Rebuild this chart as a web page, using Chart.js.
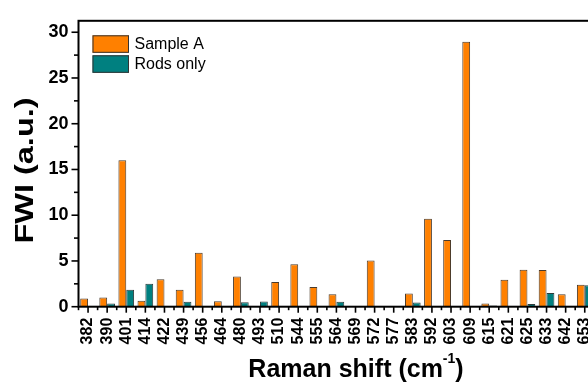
<!DOCTYPE html>
<html>
<head>
<meta charset="utf-8">
<script src="https://cdn.jsdelivr.net/npm/chart.js@4"></script>
<style>
  html, body { margin: 0; padding: 0; background: #fff; overflow: hidden; }
  #wrap { width: 600px; height: 389px; }
</style>
</head>
<body>
<div id="wrap"><canvas id="fwi_chart"></canvas></div>
<script>
// Raman shift peaks (cm-1) and FWI per sample
const shifts = ['382', '390', '401', '414', '422', '439', '456', '464', '480', '493',
                '510', '544', '555', '564', '569', '572', '577', '583', '592', '603',
                '609', '615', '621', '625', '633', '642', '653'];
const sampleA = [0.9, 1.0, 16.0, 0.65, 3.0, 1.85, 5.9, 0.6, 3.3, 0,
                 2.7, 4.65, 2.15, 1.35, 0, 5.05, 0, 1.45, 9.6, 7.3,
                 28.95, 0.35, 2.95, 4.05, 4.0, 1.35, 2.4];
const rodsOnly = [0, 0.35, 1.85, 2.5, 0, 0.55, 0, 0, 0.5, 0.57,
                  0, 0, 0, 0.55, 0, 0, 0, 0.45, 0, 0,
                  0, 0.12, 0, 0.3, 1.5, 0, 2.35];
const yTicks = [0, 5, 10, 15, 20, 25, 30];

const FONT = '"Liberation Sans", Arial, sans-serif';

function line(ctx, x1, y1, x2, y2) {
    ctx.beginPath();
    ctx.moveTo(x1, y1);
    ctx.lineTo(x2, y2);
    ctx.stroke();
}

// box frame, tick marks, legend and axis titles
const frame = {
    id: 'frame',
    afterDraw(chart) {
        const {ctx, chartArea: a, scales: {x, y}} = chart;
        ctx.save();
        ctx.strokeStyle = '#000';
        ctx.lineWidth = 2;
        ctx.strokeRect(a.left, a.top, a.right - a.left, a.bottom - a.top);

        // y ticks, minor every 2.5
        ctx.lineWidth = 1.6;
        for (let v = 0; v <= 30; v += 2.5) {
            const py = y.getPixelForValue(v);
            const len = v % 5 === 0 ? 7 : 4.5;
            line(ctx, a.left - len, py, a.left, py);
        }
        // x ticks, minor between categories
        const half = (x.getPixelForTick(1) - x.getPixelForTick(0)) / 2;
        for (let i = 0; i < shifts.length; i++) {
            const px = x.getPixelForTick(i);
            line(ctx, px, a.bottom, px, a.bottom + 6);
            line(ctx, px - half, a.bottom, px - half, a.bottom + 3.5);
        }

        // legend
        chart.data.datasets.forEach((ds, i) => {
            const bx = a.left + 14, by = a.top + 14.5 + i * 20;
            ctx.fillStyle = ds.backgroundColor;
            ctx.fillRect(bx, by, 36.5, 17.5);
            ctx.lineWidth = 1;
            ctx.strokeStyle = '#333';
            ctx.strokeRect(bx + 0.5, by + 0.5, 35.5, 16.5);
            ctx.fillStyle = '#000';
            ctx.font = '16px ' + FONT;
            ctx.textBaseline = 'middle';
            ctx.textAlign = 'left';
            ctx.fillText(ds.label, bx + 42, by + 9);
        });

        // x title with superscript
        ctx.fillStyle = '#000';
        ctx.textBaseline = 'alphabetic';
        const main = 'Raman shift (cm', sup = '-1', close = ')';
        ctx.font = 'bold 25px ' + FONT;
        const wMain = ctx.measureText(main).width, wClose = ctx.measureText(close).width;
        ctx.font = 'bold 14px ' + FONT;
        const wSup = ctx.measureText(sup).width;
        let tx = 356 - (wMain + wSup + wClose) / 2;
        const base = 376.5;
        ctx.font = 'bold 25px ' + FONT;
        ctx.fillText(main, tx, base);
        tx += wMain;
        ctx.font = 'bold 14px ' + FONT;
        ctx.fillText(sup, tx, base - 14);
        tx += wSup;
        ctx.font = 'bold 25px ' + FONT;
        ctx.fillText(close, tx, base);

        // y title
        ctx.translate(33, 170.5);
        ctx.rotate(-Math.PI / 2);
        ctx.scale(1.25, 1);
        ctx.font = 'bold 26px ' + FONT;
        ctx.textAlign = 'center';
        ctx.fillText('FWI (a.u.)', 0, 0);
        ctx.restore();
    }
};

const ctxEl = document.getElementById('fwi_chart');

let chart = new Chart(ctxEl, {
    type: 'bar',
    data: {
        labels: shifts,
        datasets: [
            {
                label: 'Sample A',
                data: sampleA,
                backgroundColor: '#ff8000',
                borderColor: '#4a3b2c',
                borderWidth: 1
            },
            {
                label: 'Rods only',
                data: rodsOnly,
                backgroundColor: '#008080',
                borderColor: '#2e3b3b',
                borderWidth: 1
            }
        ]
    },
    options: {
        responsive: true,
        maintainAspectRatio: false,
        animation: false,
        categoryPercentage: 0.82,
        barPercentage: 1,
        layout: {
            padding: { top: 13.3, right: 5.7, left: 0, bottom: 0 }
        },
        plugins: {
            legend: { display: false },
            tooltip: { enabled: false }
        },
        scales: {
            x: {
                grid: { display: false, drawTicks: false },
                border: { display: false },
                ticks: {
                    autoSkip: false,
                    minRotation: 90,
                    maxRotation: 90,
                    padding: 11,
                    color: '#000',
                    font: { family: FONT, size: 16, weight: 'bold' }
                },
                afterFit: s => {
                    s.height = 389 - 306.7;
                    s.paddingLeft = 0;
                    s.paddingRight = 0;
                }
            },
            y: {
                min: 0,
                max: 31.25,
                afterBuildTicks: s => { s.ticks = yTicks.map(v => ({ value: v })); },
                afterFit: s => { s.width = 78.5; },
                grid: { display: false, drawTicks: false },
                border: { display: false },
                ticks: {
                    padding: 10,
                    color: '#000',
                    font: { family: FONT, size: 18, weight: 'bold' }
                }
            }
        }
    },
    plugins: [frame]
});
</script>
</body>
</html>
